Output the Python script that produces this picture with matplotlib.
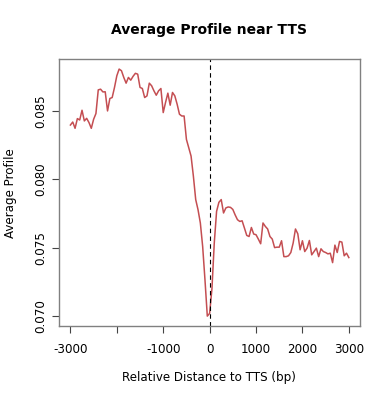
import numpy as np
import matplotlib

matplotlib.use("Agg")
import matplotlib.pyplot as plt

plt.rcParams["font.family"] = ["DejaVu Sans"]

# bin positions (bp) relative to TTS, 50 bp bins
distance = np.arange(-3000, 3001, 50)

profile = [
    0.08397, 0.08419, 0.08373, 0.08444, 0.08434, 0.08505, 0.08427, 0.08446, 0.08415, 0.08373,
    0.08439, 0.08481, 0.08654, 0.08659, 0.08639, 0.08640, 0.08500, 0.08591, 0.08598, 0.08672,
    0.08757, 0.08806, 0.08794, 0.08745, 0.08703, 0.08745, 0.08725, 0.08753, 0.08775, 0.08769,
    0.08672, 0.08664, 0.08598, 0.08610, 0.08703, 0.08684, 0.08647, 0.08615, 0.08647, 0.08664,
    0.08488, 0.08562, 0.08630, 0.08542, 0.08635, 0.08610, 0.08549, 0.08476, 0.08463, 0.08463,
    0.08292, 0.08231, 0.08170, 0.08023, 0.07852, 0.07778, 0.07681, 0.07509, 0.07264, 0.07000,
    0.07020, 0.07200, 0.07534, 0.07766, 0.07832, 0.07852, 0.07754, 0.07791, 0.07798, 0.07795,
    0.07780, 0.07740, 0.07705, 0.07692, 0.07697, 0.07644, 0.07590, 0.07582, 0.07648, 0.07600,
    0.07595, 0.07563, 0.07529, 0.07681, 0.07656, 0.07637, 0.07582, 0.07563, 0.07501, 0.07504,
    0.07504, 0.07551, 0.07435, 0.07435, 0.07441, 0.07465, 0.07534, 0.07637, 0.07602, 0.07485,
    0.07551, 0.07472, 0.07497, 0.07553, 0.07448, 0.07472, 0.07497, 0.07435, 0.07492, 0.07472,
    0.07465, 0.07455, 0.07460, 0.07391, 0.07519, 0.07465, 0.07546, 0.07541, 0.07441, 0.07460,
    0.07428,
]

x_ticks = [-3000, -2000, -1000, 0, 1000, 2000, 3000]
x_tick_labels = ["-3000", "", "-1000", "0", "1000", "2000", "3000"]
y_ticks = [0.070, 0.075, 0.080, 0.085]
y_tick_labels = ["0.070", "0.075", "0.080", "0.085"]

LINE_COLOR = "#C44E52"
FS = 8.6

fig = plt.figure(figsize=(3.9, 4.0), dpi=100)
ax = fig.add_axes([0.152, 0.185, 0.771, 0.667])

ax.plot(distance, profile, color=LINE_COLOR, lw=1.1)
ax.axvline(0, color="black", lw=0.8, ls=(0, (4, 3)))

# R-style 4% padding around the data range
xmin, xmax = distance.min(), distance.max()
ymin, ymax = min(profile), max(profile)
ax.set_xlim(xmin - 0.04 * (xmax - xmin), xmax + 0.04 * (xmax - xmin))
ax.set_ylim(ymin - 0.04 * (ymax - ymin), ymax + 0.04 * (ymax - ymin))

ax.set_xticks(x_ticks)
ax.set_xticklabels(x_tick_labels, fontsize=FS)
ax.set_yticks(y_ticks)
ax.set_yticklabels(y_tick_labels, fontsize=FS, rotation=90, va="center")

ax.tick_params(axis="x", direction="out", length=5, width=0.8, color="#444444", pad=7)
ax.tick_params(axis="y", direction="out", length=5, width=0.8, color="#444444", pad=4)
for side in ax.spines.values():
    side.set_color("#808080")
    side.set_linewidth(1.0)

fig.text(0.537, 0.925, "Average Profile near TTS", ha="center", va="center",
         fontsize=10, fontweight="bold")
fig.text(0.537, 0.0575, "Relative Distance to TTS (bp)", ha="center", va="center", fontsize=FS)
fig.text(0.026, 0.5175, "Average Profile", ha="center", va="center", rotation=90, fontsize=FS)

fig.savefig("out.png", dpi=100)
plt.close(fig)
